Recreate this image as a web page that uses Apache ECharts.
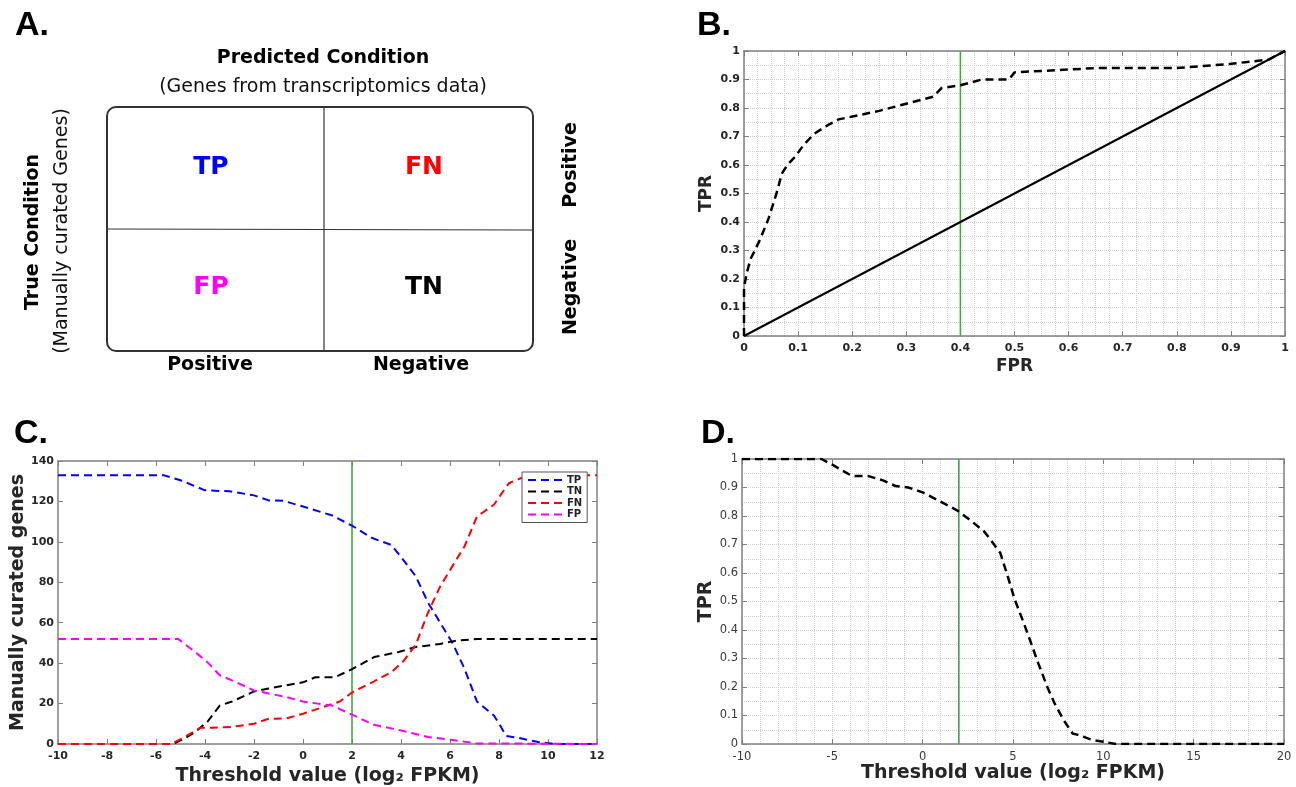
<!DOCTYPE html>
<html>
<head>
<meta charset="utf-8">
<script src="https://cdn.jsdelivr.net/npm/echarts@6/dist/echarts.min.js"></script>
<style>
  html, body { margin: 0; padding: 0; background: #fff; }
  #chart { width: 1296px; height: 787px; }
</style>
</head>
<body>
<div id="chart"></div>
<script>
// panel B: ROC curve
const rocFpr = [0, 0, 0.005, 0.012, 0.02, 0.03, 0.045, 0.06, 0.07, 0.08, 0.095, 0.11, 0.13, 0.155, 0.175, 0.2, 0.25, 0.3, 0.35, 0.365, 0.4, 0.44, 0.49, 0.5, 0.6, 0.65, 0.8, 0.9, 0.97, 1]
const rocTpr = [0, 0.17, 0.22, 0.27, 0.3, 0.34, 0.41, 0.5, 0.57, 0.6, 0.63, 0.67, 0.71, 0.74, 0.76, 0.77, 0.79, 0.815, 0.84, 0.87, 0.88, 0.9, 0.9, 0.925, 0.935, 0.94, 0.94, 0.955, 0.97, 1]
const chanceX = [0, 1]
const chanceY = [0, 1]
const rocCutoff = 0.4

// panel C: counts vs threshold
const tpX = [-10, -5.7, -5, -4, -3, -2, -1.4, -0.8, 0, 1.2, 2, 2.8, 3.6, 4.1, 4.6, 5.1, 5.6, 6.1, 6.6, 7.1, 7.8, 8.3, 8.8, 9.6, 10.3, 12]
const tpY = [133, 133, 130.5, 125.5, 125, 123, 120.5, 120.3, 117.5, 113, 108, 102, 98.5, 91, 83, 70, 60, 50, 37, 21, 14, 4, 3, 1, 0, 0]
const tnX = [-10, -5.3, -4.8, -4.4, -3.9, -3.4, -2.9, -2, -1.4, -0.7, 0, 0.5, 1.3, 2, 2.9, 3.9, 4.6, 5.6, 6.2, 7.1, 12]
const tnY = [0, 0, 3, 6, 11, 19, 21, 26, 27.5, 29, 30.5, 33, 33, 37, 43, 45.5, 48, 49.5, 51, 52, 52]
const fnX = [-10, -5.4, -4.9, -4.2, -3.7, -2.9, -2, -1.4, -0.7, 0, 1, 1.5, 2, 2.9, 3.6, 4.1, 4.6, 5.1, 5.6, 6.1, 6.6, 7.1, 7.8, 8.4, 9.1, 12]
const fnY = [0, 0, 3, 8, 8, 8.5, 10, 12.5, 12.6, 15, 19, 21, 25.5, 31, 35.5, 41, 49, 65, 78, 88, 98, 112.5, 118.5, 129, 132.5, 133]
const fpX = [-10, -5.1, -4.4, -3.9, -3.4, -2.9, -2, -1.4, -0.7, 0, 1.2, 2, 2.9, 3.9, 5.1, 6.1, 7.1, 12]
const fpY = [52, 52, 45.5, 40.5, 34, 31.5, 26.5, 25, 23.3, 21, 19, 14.5, 9.5, 7, 3.5, 2, 0.3, 0]
const thresholdCutoff = 2

// panel D: TPR vs threshold
const tprThrX = [-10, -5.6, -5, -3.9, -3, -2.2, -1.5, -0.8, 0, 0.8, 1.9, 2.6, 3.4, 3.7, 4.3, 4.7, 5.1, 5.6, 6, 6.4, 6.9, 7.3, 7.8, 8.3, 8.6, 9.4, 10, 10.7, 20]
const tprThrY = [1, 1, 0.98, 0.94, 0.94, 0.925, 0.905, 0.9, 0.883, 0.857, 0.82, 0.787, 0.746, 0.722, 0.67, 0.59, 0.506, 0.424, 0.354, 0.283, 0.2, 0.143, 0.084, 0.037, 0.032, 0.014, 0.008, 0, 0]

// panel A: confusion matrix labels
const cellLabels = ["TP", "FN", "FP", "TN"]
const cellColors = ["#0000ff", "#ff0000", "#ff00ff", "#000000"]
const predictedLabels = ["Positive", "Negative"]
const trueLabels = ["Positive", "Negative"]

const FONT = "DejaVu Sans"
const zip = (xs, ys) => xs.map((x, i) => [x, ys[i]])

// builds the 4 axes (bottom/top x, left/right y) around one grid
function boxAxes(gridIndex, xr, yr, st) {
    const line = { show: true, onZero: false, lineStyle: { color: "#808080", width: 1.5 } }
    const tick = { show: true, inside: true, length: 5, lineStyle: { color: "#808080", width: 1 } }
    const lbl = {
        fontFamily: FONT, fontSize: st.fontSize, fontWeight: st.fontWeight, color: st.labelColor, margin: 7,
    }
    const grid = st.grid
    const mk = (r, minor) => ({
        type: "value", gridIndex: gridIndex, min: r[0], max: r[1], interval: r[2],
        axisLine: line, axisTick: tick,
        minorTick: { show: false, splitNumber: minor || 5 },
        splitLine: { show: grid, lineStyle: { color: "#cfcfcf", type: "dotted", width: 1 } },
        minorSplitLine: { show: grid && !!minor, lineStyle: { color: "#cfcfcf", type: "dotted", width: 1 } },
    })
    const xb = Object.assign(mk(xr, st.xMinor), {
        position: "bottom", axisLabel: lbl,
        name: st.xName, nameLocation: "middle", nameGap: st.xNameGap,
        nameTextStyle: { fontFamily: FONT, fontWeight: "bold", fontSize: st.nameSize, color: "#262626" },
    })
    const xt = Object.assign(mk(xr), { position: "top", axisLabel: { show: false }, splitLine: { show: false } })
    const yl = Object.assign(mk(yr, st.yMinor), {
        position: "left", axisLabel: Object.assign({}, lbl, { margin: 4 }),
        name: st.yName, nameLocation: "middle", nameGap: st.yNameGap, nameRotate: 90,
        nameTextStyle: { fontFamily: FONT, fontWeight: "bold", fontSize: st.nameSize, color: "#262626" },
    })
    const yr2 = Object.assign(mk(yr), { position: "right", axisLabel: { show: false }, splitLine: { show: false } })
    return { x: [xb, xt], y: [yl, yr2] }
}

const axB = boxAxes(0, [0, 1, 0.1], [0, 1, 0.1], {
    fontSize: 11, fontWeight: "bold", labelColor: "#262626", grid: true, xMinor: 4, yMinor: 2,
    xName: "FPR", xNameGap: 22, yName: "TPR", yNameGap: 29, nameSize: 17,
})
const axC = boxAxes(1, [-10, 12, 2], [0, 140, 20], {
    fontSize: 11, fontWeight: "bold", labelColor: "#262626", grid: false,
    xName: "Threshold value (log\u2082 FPKM)", xNameGap: 23, yName: "Manually curated genes", yNameGap: 30, nameSize: 19,
})
const axD = boxAxes(2, [-10, 20, 5], [0, 1, 0.1], {
    fontSize: 11.5, fontWeight: "normal", labelColor: "#3a3a3a", grid: true, xMinor: 5, yMinor: 2,
    xName: "Threshold value (log\u2082 FPKM)", xNameGap: 18, yName: "TPR", yNameGap: 26, nameSize: 19,
})

const xAxes = [...axB.x, ...axC.x, ...axD.x]
const yAxes = [...axB.y, ...axC.y, ...axD.y]

function dashed(name, data, color, xi, yi, width) {
    return {
        name: name, type: "line", xAxisIndex: xi, yAxisIndex: yi, data: data,
        symbol: "none", showSymbol: false, silent: true,
        lineStyle: { color: color, width: width, type: [8, 5] },
        itemStyle: { color: color },
    }
}
function cutLine(x, ymax, xi, yi) {
    return {
        type: "line", xAxisIndex: xi, yAxisIndex: yi, data: [[x, 0], [x, ymax]],
        symbol: "none", silent: true, lineStyle: { color: "#45a845", width: 1.6 }, z: 1,
    }
}

const txt = (t, x, y, font, color, rot) => ({
    type: "text", x: x, y: y, rotation: rot || 0, silent: true,
    style: {
        text: t, font: font, fill: color || "#000",
        textAlign: "center", align: "center", textVerticalAlign: "middle", verticalAlign: "middle",
    },
})

const boxL = 107, boxT = 107, boxW = 426, boxH = 244, midX = 324, midY = 229
const letterFont = 'bold 34px "Liberation Sans"'
const aFont = "bold 19px " + FONT
const aFontN = "19px " + FONT
const cellX = [211, 424], cellY = [167, 287]

const graphic = [
    txt("A.", 32, 26, letterFont),
    txt("B.", 714, 26, letterFont),
    txt("C.", 31, 434, letterFont),
    txt("D.", 718, 434, letterFont),
    txt("Predicted Condition", 323, 58, aFont, "#000"),
    txt("(Genes from transcriptomics data)", 323, 87, aFontN, "#111"),
    { type: "rect", silent: true, shape: { x: boxL, y: boxT, width: boxW, height: boxH, r: 9 },
      style: { fill: "none", stroke: "#333", lineWidth: 2 } },
    { type: "line", silent: true, shape: { x1: midX, y1: boxT, x2: midX, y2: boxT + boxH },
      style: { stroke: "#333", lineWidth: 1.2 } },
    { type: "line", silent: true, shape: { x1: boxL, y1: midY, x2: boxL + boxW, y2: midY + 1 },
      style: { stroke: "#333", lineWidth: 1.2 } },
    txt(predictedLabels[0], 210, 365, aFont),
    txt(predictedLabels[1], 421, 365, aFont),
    txt(trueLabels[0], 571, 165, aFont, "#000", Math.PI / 2),
    txt(trueLabels[1], 571, 287, aFont, "#000", Math.PI / 2),
    txt("True Condition", 33, 232, aFont, "#000", Math.PI / 2),
    txt("(Manually curated Genes)", 62, 231, aFontN, "#111", Math.PI / 2),
]
cellLabels.forEach((c, i) => {
    graphic.push(txt(c, cellX[i % 2], cellY[Math.floor(i / 2)], "bold 25px " + FONT, cellColors[i]))
})

const chart = echarts.init(document.getElementById("chart"))
const option = {
    animation: false,
    backgroundColor: "#fff",
    textStyle: { fontFamily: FONT },
    grid: [
        { left: 744, top: 51, width: 541, height: 285 },
        { left: 58, top: 461, width: 539, height: 284 },
        { left: 742, top: 459, width: 542, height: 285 },
    ],
    xAxis: xAxes,
    yAxis: yAxes,
    legend: {
        data: ["TP", "TN", "FN", "FP"],
        orient: "vertical",
        left: 522, top: 472,
        itemWidth: 36, itemHeight: 12, itemGap: 1.5,
        padding: [3, 5, 3, 5],
        borderColor: "#555", borderWidth: 1, backgroundColor: "#fff",
        itemStyle: { opacity: 0 },
        textStyle: { fontFamily: FONT, fontWeight: "bold", fontSize: 10, color: "#222", padding: [0, 0, 0, -2] },
        selectedMode: false,
    },
    graphic: graphic,
    series: [
        // B
        cutLine(rocCutoff, 1, 0, 0),
        { type: "line", xAxisIndex: 0, yAxisIndex: 0, data: zip(chanceX, chanceY), symbol: "none", silent: true,
          lineStyle: { color: "#000", width: 2 } },
        dashed("ROC", zip(rocFpr, rocTpr), "#000", 0, 0, 2.5),
        // C
        cutLine(thresholdCutoff, 140, 2, 2),
        dashed("TP", zip(tpX, tpY), "#0000ff", 2, 2, 2),
        dashed("TN", zip(tnX, tnY), "#000000", 2, 2, 2),
        dashed("FN", zip(fnX, fnY), "#ff0000", 2, 2, 2),
        dashed("FP", zip(fpX, fpY), "#ff00ff", 2, 2, 2),
        // D
        cutLine(thresholdCutoff, 1, 4, 4),
        dashed("TPR", zip(tprThrX, tprThrY), "#000", 4, 4, 2.5),
    ],
}
chart.setOption(option, true)
</script>
</body>
</html>
